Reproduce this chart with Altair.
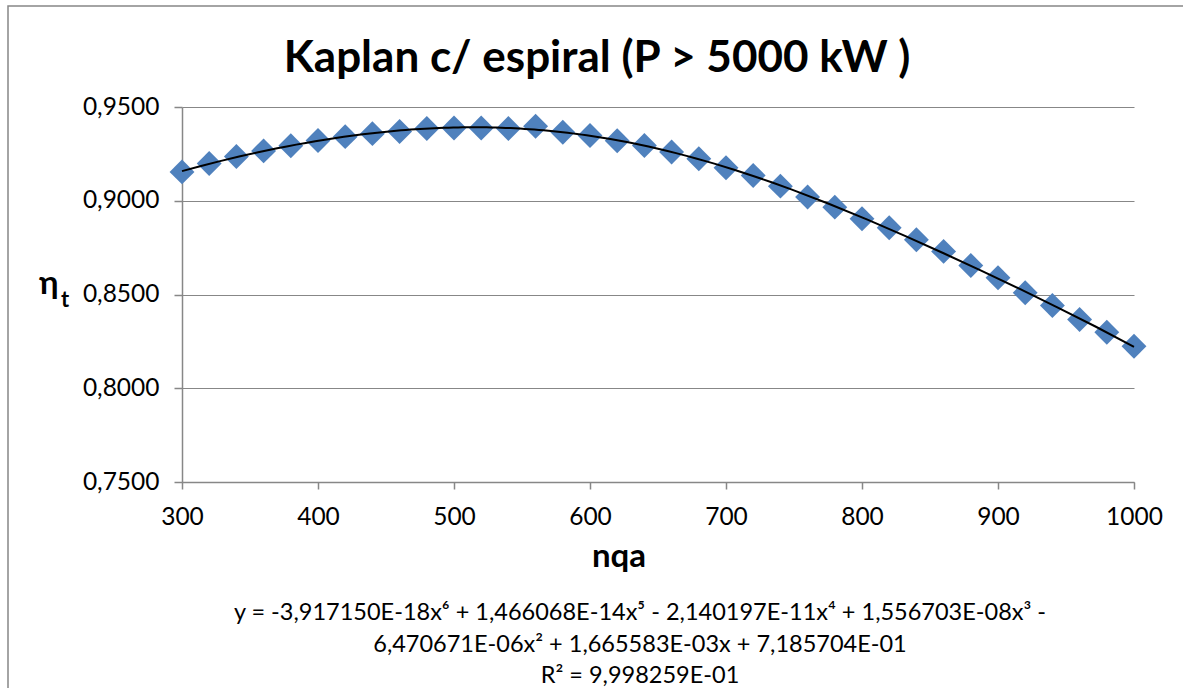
import altair as alt
import pandas as pd

# ---- data ----
nqa = [300, 320, 340, 360, 380, 400, 420, 440, 460, 480, 500, 520, 540, 560,
       580, 600, 620, 640, 660, 680, 700, 720, 740, 760, 780, 800, 820, 840,
       860, 880, 900, 920, 940, 960, 980, 1000]
eta = [0.9154, 0.9199, 0.9236, 0.9266, 0.9293, 0.9321, 0.9342, 0.9358, 0.9369,
       0.9385, 0.9388, 0.9388, 0.9385, 0.9397, 0.9365, 0.9348, 0.9320, 0.9295,
       0.9260, 0.9224, 0.9176, 0.9135, 0.9078, 0.9020, 0.8966, 0.8904, 0.8856,
       0.8792, 0.8730, 0.8655, 0.8589, 0.8509, 0.8441, 0.8367, 0.8299, 0.8224]

x_ticks = [300, 400, 500, 600, 700, 800, 900, 1000]
y_ticks = [0.75, 0.80, 0.85, 0.90, 0.95]

title_text = "Kaplan c/ espiral (P > 5000 kW )"
x_title = "nqa"
y_title_main = "η"
y_title_sub = "t"
eq_lines = [
    "y = -3,917150E-18x⁶ + 1,466068E-14x⁵ - 2,140197E-11x⁴ + 1,556703E-08x³ -",
    "6,470671E-06x² + 1,665583E-03x + 7,185704E-01",
    "R² = 9,998259E-01",
]

FONT = "Lato"
GRAY = "#878787"
BLUE = "#4F81BD"

df = pd.DataFrame({"nqa": nqa, "eta": eta})

xscale = alt.Scale(domain=[300, 1000], nice=False, zero=False)
yscale = alt.Scale(domain=[0.75, 0.95], nice=False, zero=False)

base = alt.Chart(df)

points = base.mark_point(shape="diamond", filled=True, size=620, color=BLUE, opacity=1).encode(
    x=alt.X("nqa:Q", scale=xscale,
            axis=alt.Axis(values=x_ticks, title=None, grid=False, tickSize=7,
                          labelPadding=16, format="d", labelFlush=False,
                          labelOverlap=False)),
    y=alt.Y("eta:Q", scale=yscale,
            axis=alt.Axis(values=y_ticks, title=None, grid=True, tickSize=8,
                          labelPadding=15, labelFlush=False, labelOverlap=False,
                          labelExpr="replace(format(datum.value, '.4f'), '.', ',')")),
)

trend = base.transform_regression(
    "nqa", "eta", method="poly", order=6, extent=[300, 1000]
).mark_line(color="black", strokeWidth=2).encode(
    x=alt.X("nqa:Q", scale=xscale),
    y=alt.Y("eta:Q", scale=yscale),
)


def label(text, x, y, size, bold=False, align="center"):
    return alt.Chart(pd.DataFrame({"t": [text]})).mark_text(
        font=FONT, fontSize=size, fontWeight="bold" if bold else "normal",
        align=align, baseline="alphabetic", color="black",
    ).encode(text="t:N", x=alt.value(x), y=alt.value(y))


# chart-area frame: a rectangle whose right and bottom edges lie outside the picture
frame = alt.Chart(pd.DataFrame({"a": [0]})).mark_rect(
    fill=None, fillOpacity=0, stroke=GRAY, strokeWidth=1.5
).encode(x=alt.value(-174), x2=alt.value(1030), y=alt.value(-101), y2=alt.value(620))

layers = [
    frame, points, trend,
    label(title_text, 415, -35, 44, bold=True),
    label(x_title, 437, 460, 33, bold=True),
    label(y_title_main, -143, 187, 33, bold=True, align="left"),
    label(y_title_sub, -121, 200, 22, bold=True, align="left"),
    label(eq_lines[0], 458, 513, 23.5),
    label(eq_lines[1], 458, 545, 23.5),
    label(eq_lines[2], 458, 576, 23.5),
]

chart = alt.layer(*layers).properties(
    width=952, height=375,
    autosize=alt.AutoSizeParams(type="none"),
    padding={"left": 182, "top": 107, "right": 49, "bottom": 206},
    background="white",
).configure_view(stroke=None).configure_axis(
    labelFont=FONT, labelFontSize=24.5, labelColor="black",
    domainColor=GRAY, tickColor=GRAY, gridColor=GRAY,
    domainWidth=1.5, tickWidth=1.5, gridWidth=1,
)

chart.save("out.html", embed_options={"renderer": "svg", "actions": False})
